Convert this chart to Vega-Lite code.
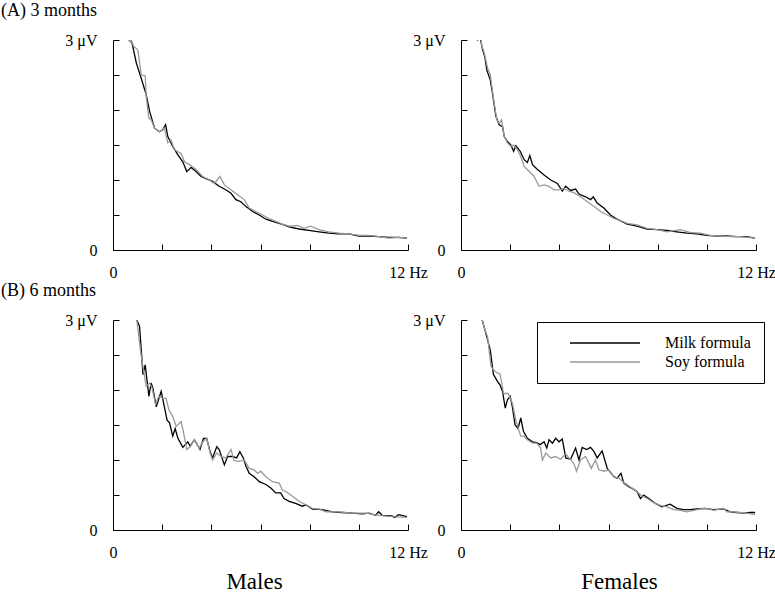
{
  "$schema": "https://vega.github.io/schema/vega-lite/v6.json",
  "background": "white",
  "padding": {"left": 1, "top": 2, "right": 0, "bottom": 0},
  "config": {
    "view": {"stroke": null},
    "font": "Liberation Serif",
    "axis": {
      "grid": false, "domainColor": "#000", "tickColor": "#000", "labelColor": "#000",
      "labelFont": "Liberation Serif", "labelFontSize": 16, "tickSize": -6, "tickWidth": 1, "domainWidth": 1,
      "labelOverlap": false, "labelFlush": false,
      "titleFont": "Liberation Serif", "titleFontSize": 23, "titleFontWeight": "normal", "titleColor": "#000"
    },
    "axisX": {"values": [0, 2.4, 4.8, 7.2, 9.6, 12], "labelExpr": "datum.value == 0 ? '0' : datum.value == 12 ? '12 Hz' : ''", "labelPadding": 20, "titlePadding": 10},
    "axisY": {"values": [0, 0.6, 1.2, 1.8, 2.4, 3], "labelExpr": "datum.value == 3 ? '3 μV' : datum.value == 0 ? '0' : ''", "labelPadding": 22, "title": null},
    "title": {"font": "Liberation Serif", "fontSize": 18, "fontWeight": "normal", "color": "#000", "anchor": "start", "frame": "group"}
  },
  "datasets": {
    "m3": [
      {"formula": "Milk formula", "hz": 0.5, "uv": 3.3}, {"formula": "Milk formula", "hz": 0.61, "uv": 3.05}, {"formula": "Milk formula", "hz": 0.78, "uv": 2.95}, {"formula": "Milk formula", "hz": 0.95, "uv": 2.67}, {"formula": "Milk formula", "hz": 1.15, "uv": 2.45}, {"formula": "Milk formula", "hz": 1.35, "uv": 2.22}, {"formula": "Milk formula", "hz": 1.49, "uv": 1.98}, {"formula": "Milk formula", "hz": 1.69, "uv": 1.74}, {"formula": "Milk formula", "hz": 1.89, "uv": 1.69}, {"formula": "Milk formula", "hz": 2.03, "uv": 1.72}, {"formula": "Milk formula", "hz": 2.14, "uv": 1.79}, {"formula": "Milk formula", "hz": 2.23, "uv": 1.62}, {"formula": "Milk formula", "hz": 2.43, "uv": 1.48}, {"formula": "Milk formula", "hz": 2.64, "uv": 1.36}, {"formula": "Milk formula", "hz": 2.84, "uv": 1.26}, {"formula": "Milk formula", "hz": 3.0, "uv": 1.12}, {"formula": "Milk formula", "hz": 3.18, "uv": 1.18}, {"formula": "Milk formula", "hz": 3.38, "uv": 1.12}, {"formula": "Milk formula", "hz": 3.58, "uv": 1.05}, {"formula": "Milk formula", "hz": 3.78, "uv": 1.02}, {"formula": "Milk formula", "hz": 4.05, "uv": 0.98}, {"formula": "Milk formula", "hz": 4.32, "uv": 0.91}, {"formula": "Milk formula", "hz": 4.59, "uv": 0.86}, {"formula": "Milk formula", "hz": 4.8, "uv": 0.81}, {"formula": "Milk formula", "hz": 5.0, "uv": 0.72}, {"formula": "Milk formula", "hz": 5.2, "uv": 0.69}, {"formula": "Milk formula", "hz": 5.41, "uv": 0.62}, {"formula": "Milk formula", "hz": 5.68, "uv": 0.55}, {"formula": "Milk formula", "hz": 5.95, "uv": 0.5}, {"formula": "Milk formula", "hz": 6.22, "uv": 0.44}, {"formula": "Milk formula", "hz": 6.49, "uv": 0.41}, {"formula": "Milk formula", "hz": 6.76, "uv": 0.38}, {"formula": "Milk formula", "hz": 6.96, "uv": 0.36}, {"formula": "Milk formula", "hz": 7.16, "uv": 0.33}, {"formula": "Milk formula", "hz": 7.57, "uv": 0.3}, {"formula": "Milk formula", "hz": 7.97, "uv": 0.28}, {"formula": "Milk formula", "hz": 8.38, "uv": 0.26}, {"formula": "Milk formula", "hz": 8.78, "uv": 0.24}, {"formula": "Milk formula", "hz": 9.19, "uv": 0.23}, {"formula": "Milk formula", "hz": 9.59, "uv": 0.23}, {"formula": "Milk formula", "hz": 10.0, "uv": 0.2}, {"formula": "Milk formula", "hz": 10.41, "uv": 0.2}, {"formula": "Milk formula", "hz": 10.81, "uv": 0.19}, {"formula": "Milk formula", "hz": 11.22, "uv": 0.18}, {"formula": "Milk formula", "hz": 11.62, "uv": 0.18}, {"formula": "Milk formula", "hz": 11.96, "uv": 0.17},
      {"formula": "Soy formula", "hz": 0.45, "uv": 3.3}, {"formula": "Soy formula", "hz": 0.54, "uv": 3.05}, {"formula": "Soy formula", "hz": 0.68, "uv": 2.98}, {"formula": "Soy formula", "hz": 0.74, "uv": 3.0}, {"formula": "Soy formula", "hz": 0.84, "uv": 2.91}, {"formula": "Soy formula", "hz": 1.01, "uv": 2.86}, {"formula": "Soy formula", "hz": 1.15, "uv": 2.5}, {"formula": "Soy formula", "hz": 1.31, "uv": 2.49}, {"formula": "Soy formula", "hz": 1.35, "uv": 2.19}, {"formula": "Soy formula", "hz": 1.46, "uv": 1.88}, {"formula": "Soy formula", "hz": 1.55, "uv": 1.86}, {"formula": "Soy formula", "hz": 1.69, "uv": 1.74}, {"formula": "Soy formula", "hz": 1.89, "uv": 1.69}, {"formula": "Soy formula", "hz": 2.09, "uv": 1.74}, {"formula": "Soy formula", "hz": 2.23, "uv": 1.53}, {"formula": "Soy formula", "hz": 2.36, "uv": 1.57}, {"formula": "Soy formula", "hz": 2.5, "uv": 1.43}, {"formula": "Soy formula", "hz": 2.77, "uv": 1.38}, {"formula": "Soy formula", "hz": 2.91, "uv": 1.26}, {"formula": "Soy formula", "hz": 3.11, "uv": 1.22}, {"formula": "Soy formula", "hz": 3.38, "uv": 1.15}, {"formula": "Soy formula", "hz": 3.65, "uv": 1.05}, {"formula": "Soy formula", "hz": 3.92, "uv": 1.0}, {"formula": "Soy formula", "hz": 4.12, "uv": 0.95}, {"formula": "Soy formula", "hz": 4.35, "uv": 1.05}, {"formula": "Soy formula", "hz": 4.53, "uv": 0.93}, {"formula": "Soy formula", "hz": 4.8, "uv": 0.86}, {"formula": "Soy formula", "hz": 5.07, "uv": 0.79}, {"formula": "Soy formula", "hz": 5.34, "uv": 0.72}, {"formula": "Soy formula", "hz": 5.54, "uv": 0.6}, {"formula": "Soy formula", "hz": 5.81, "uv": 0.55}, {"formula": "Soy formula", "hz": 6.08, "uv": 0.5}, {"formula": "Soy formula", "hz": 6.35, "uv": 0.45}, {"formula": "Soy formula", "hz": 6.62, "uv": 0.41}, {"formula": "Soy formula", "hz": 6.89, "uv": 0.37}, {"formula": "Soy formula", "hz": 7.16, "uv": 0.34}, {"formula": "Soy formula", "hz": 7.5, "uv": 0.35}, {"formula": "Soy formula", "hz": 7.77, "uv": 0.31}, {"formula": "Soy formula", "hz": 8.04, "uv": 0.34}, {"formula": "Soy formula", "hz": 8.38, "uv": 0.29}, {"formula": "Soy formula", "hz": 8.78, "uv": 0.26}, {"formula": "Soy formula", "hz": 9.19, "uv": 0.24}, {"formula": "Soy formula", "hz": 9.59, "uv": 0.23}, {"formula": "Soy formula", "hz": 10.0, "uv": 0.21}, {"formula": "Soy formula", "hz": 10.41, "uv": 0.21}, {"formula": "Soy formula", "hz": 10.81, "uv": 0.19}, {"formula": "Soy formula", "hz": 11.22, "uv": 0.17}, {"formula": "Soy formula", "hz": 11.62, "uv": 0.18}, {"formula": "Soy formula", "hz": 11.96, "uv": 0.17}
    ],
    "f3": [
      {"formula": "Milk formula", "hz": 0.45, "uv": 3.2}, {"formula": "Milk formula", "hz": 0.54, "uv": 3.03}, {"formula": "Milk formula", "hz": 0.68, "uv": 3.0}, {"formula": "Milk formula", "hz": 0.78, "uv": 3.03}, {"formula": "Milk formula", "hz": 0.88, "uv": 2.86}, {"formula": "Milk formula", "hz": 0.97, "uv": 2.76}, {"formula": "Milk formula", "hz": 1.05, "uv": 2.57}, {"formula": "Milk formula", "hz": 1.19, "uv": 2.43}, {"formula": "Milk formula", "hz": 1.28, "uv": 2.24}, {"formula": "Milk formula", "hz": 1.42, "uv": 1.91}, {"formula": "Milk formula", "hz": 1.55, "uv": 1.79}, {"formula": "Milk formula", "hz": 1.69, "uv": 1.76}, {"formula": "Milk formula", "hz": 1.76, "uv": 1.62}, {"formula": "Milk formula", "hz": 1.89, "uv": 1.55}, {"formula": "Milk formula", "hz": 2.03, "uv": 1.5}, {"formula": "Milk formula", "hz": 2.14, "uv": 1.41}, {"formula": "Milk formula", "hz": 2.23, "uv": 1.49}, {"formula": "Milk formula", "hz": 2.41, "uv": 1.41}, {"formula": "Milk formula", "hz": 2.57, "uv": 1.29}, {"formula": "Milk formula", "hz": 2.7, "uv": 1.25}, {"formula": "Milk formula", "hz": 2.8, "uv": 1.35}, {"formula": "Milk formula", "hz": 2.91, "uv": 1.22}, {"formula": "Milk formula", "hz": 3.11, "uv": 1.15}, {"formula": "Milk formula", "hz": 3.38, "uv": 1.07}, {"formula": "Milk formula", "hz": 3.65, "uv": 1.0}, {"formula": "Milk formula", "hz": 3.92, "uv": 0.95}, {"formula": "Milk formula", "hz": 4.12, "uv": 0.84}, {"formula": "Milk formula", "hz": 4.26, "uv": 0.91}, {"formula": "Milk formula", "hz": 4.46, "uv": 0.85}, {"formula": "Milk formula", "hz": 4.66, "uv": 0.87}, {"formula": "Milk formula", "hz": 4.8, "uv": 0.8}, {"formula": "Milk formula", "hz": 5.07, "uv": 0.76}, {"formula": "Milk formula", "hz": 5.27, "uv": 0.72}, {"formula": "Milk formula", "hz": 5.38, "uv": 0.76}, {"formula": "Milk formula", "hz": 5.54, "uv": 0.67}, {"formula": "Milk formula", "hz": 5.81, "uv": 0.6}, {"formula": "Milk formula", "hz": 6.08, "uv": 0.5}, {"formula": "Milk formula", "hz": 6.35, "uv": 0.44}, {"formula": "Milk formula", "hz": 6.76, "uv": 0.37}, {"formula": "Milk formula", "hz": 7.16, "uv": 0.34}, {"formula": "Milk formula", "hz": 7.57, "uv": 0.3}, {"formula": "Milk formula", "hz": 7.97, "uv": 0.29}, {"formula": "Milk formula", "hz": 8.38, "uv": 0.28}, {"formula": "Milk formula", "hz": 8.78, "uv": 0.26}, {"formula": "Milk formula", "hz": 9.19, "uv": 0.24}, {"formula": "Milk formula", "hz": 9.59, "uv": 0.23}, {"formula": "Milk formula", "hz": 10.0, "uv": 0.21}, {"formula": "Milk formula", "hz": 10.41, "uv": 0.2}, {"formula": "Milk formula", "hz": 10.81, "uv": 0.2}, {"formula": "Milk formula", "hz": 11.22, "uv": 0.19}, {"formula": "Milk formula", "hz": 11.62, "uv": 0.19}, {"formula": "Milk formula", "hz": 11.96, "uv": 0.17},
      {"formula": "Soy formula", "hz": 0.45, "uv": 3.2}, {"formula": "Soy formula", "hz": 0.54, "uv": 3.03}, {"formula": "Soy formula", "hz": 0.81, "uv": 3.03}, {"formula": "Soy formula", "hz": 0.84, "uv": 2.93}, {"formula": "Soy formula", "hz": 0.95, "uv": 2.81}, {"formula": "Soy formula", "hz": 1.08, "uv": 2.6}, {"formula": "Soy formula", "hz": 1.19, "uv": 2.5}, {"formula": "Soy formula", "hz": 1.35, "uv": 2.1}, {"formula": "Soy formula", "hz": 1.46, "uv": 1.86}, {"formula": "Soy formula", "hz": 1.55, "uv": 1.81}, {"formula": "Soy formula", "hz": 1.65, "uv": 1.86}, {"formula": "Soy formula", "hz": 1.76, "uv": 1.62}, {"formula": "Soy formula", "hz": 1.89, "uv": 1.53}, {"formula": "Soy formula", "hz": 2.03, "uv": 1.48}, {"formula": "Soy formula", "hz": 2.14, "uv": 1.5}, {"formula": "Soy formula", "hz": 2.3, "uv": 1.43}, {"formula": "Soy formula", "hz": 2.43, "uv": 1.34}, {"formula": "Soy formula", "hz": 2.57, "uv": 1.19}, {"formula": "Soy formula", "hz": 2.7, "uv": 1.15}, {"formula": "Soy formula", "hz": 2.84, "uv": 1.1}, {"formula": "Soy formula", "hz": 2.97, "uv": 1.05}, {"formula": "Soy formula", "hz": 3.18, "uv": 0.91}, {"formula": "Soy formula", "hz": 3.38, "uv": 0.93}, {"formula": "Soy formula", "hz": 3.58, "uv": 0.91}, {"formula": "Soy formula", "hz": 3.78, "uv": 0.86}, {"formula": "Soy formula", "hz": 3.99, "uv": 0.86}, {"formula": "Soy formula", "hz": 4.19, "uv": 0.88}, {"formula": "Soy formula", "hz": 4.39, "uv": 0.84}, {"formula": "Soy formula", "hz": 4.59, "uv": 0.82}, {"formula": "Soy formula", "hz": 4.86, "uv": 0.76}, {"formula": "Soy formula", "hz": 5.14, "uv": 0.69}, {"formula": "Soy formula", "hz": 5.41, "uv": 0.62}, {"formula": "Soy formula", "hz": 5.68, "uv": 0.55}, {"formula": "Soy formula", "hz": 5.95, "uv": 0.5}, {"formula": "Soy formula", "hz": 6.22, "uv": 0.45}, {"formula": "Soy formula", "hz": 6.49, "uv": 0.42}, {"formula": "Soy formula", "hz": 6.76, "uv": 0.38}, {"formula": "Soy formula", "hz": 7.16, "uv": 0.36}, {"formula": "Soy formula", "hz": 7.57, "uv": 0.31}, {"formula": "Soy formula", "hz": 7.97, "uv": 0.29}, {"formula": "Soy formula", "hz": 8.38, "uv": 0.26}, {"formula": "Soy formula", "hz": 8.92, "uv": 0.29}, {"formula": "Soy formula", "hz": 9.32, "uv": 0.25}, {"formula": "Soy formula", "hz": 9.73, "uv": 0.24}, {"formula": "Soy formula", "hz": 10.14, "uv": 0.21}, {"formula": "Soy formula", "hz": 10.54, "uv": 0.2}, {"formula": "Soy formula", "hz": 10.95, "uv": 0.19}, {"formula": "Soy formula", "hz": 11.35, "uv": 0.19}, {"formula": "Soy formula", "hz": 11.96, "uv": 0.17}
    ],
    "m6": [
      {"formula": "Milk formula", "hz": 0.95, "uv": 3.1}, {"formula": "Milk formula", "hz": 0.97, "uv": 3.0}, {"formula": "Milk formula", "hz": 1.08, "uv": 2.91}, {"formula": "Milk formula", "hz": 1.15, "uv": 2.57}, {"formula": "Milk formula", "hz": 1.22, "uv": 2.22}, {"formula": "Milk formula", "hz": 1.31, "uv": 2.36}, {"formula": "Milk formula", "hz": 1.38, "uv": 2.15}, {"formula": "Milk formula", "hz": 1.46, "uv": 1.91}, {"formula": "Milk formula", "hz": 1.55, "uv": 2.1}, {"formula": "Milk formula", "hz": 1.62, "uv": 2.03}, {"formula": "Milk formula", "hz": 1.76, "uv": 1.76}, {"formula": "Milk formula", "hz": 1.85, "uv": 1.86}, {"formula": "Milk formula", "hz": 1.96, "uv": 1.98}, {"formula": "Milk formula", "hz": 2.09, "uv": 1.76}, {"formula": "Milk formula", "hz": 2.2, "uv": 1.57}, {"formula": "Milk formula", "hz": 2.3, "uv": 1.53}, {"formula": "Milk formula", "hz": 2.43, "uv": 1.34}, {"formula": "Milk formula", "hz": 2.53, "uv": 1.45}, {"formula": "Milk formula", "hz": 2.64, "uv": 1.31}, {"formula": "Milk formula", "hz": 2.84, "uv": 1.18}, {"formula": "Milk formula", "hz": 3.04, "uv": 1.26}, {"formula": "Milk formula", "hz": 3.14, "uv": 1.2}, {"formula": "Milk formula", "hz": 3.31, "uv": 1.29}, {"formula": "Milk formula", "hz": 3.54, "uv": 1.15}, {"formula": "Milk formula", "hz": 3.68, "uv": 1.31}, {"formula": "Milk formula", "hz": 3.81, "uv": 1.31}, {"formula": "Milk formula", "hz": 3.95, "uv": 1.12}, {"formula": "Milk formula", "hz": 4.05, "uv": 1.03}, {"formula": "Milk formula", "hz": 4.22, "uv": 1.19}, {"formula": "Milk formula", "hz": 4.32, "uv": 1.15}, {"formula": "Milk formula", "hz": 4.53, "uv": 0.93}, {"formula": "Milk formula", "hz": 4.66, "uv": 1.05}, {"formula": "Milk formula", "hz": 4.86, "uv": 1.05}, {"formula": "Milk formula", "hz": 5.03, "uv": 1.03}, {"formula": "Milk formula", "hz": 5.16, "uv": 1.12}, {"formula": "Milk formula", "hz": 5.3, "uv": 1.03}, {"formula": "Milk formula", "hz": 5.41, "uv": 0.91}, {"formula": "Milk formula", "hz": 5.54, "uv": 0.81}, {"formula": "Milk formula", "hz": 5.74, "uv": 0.76}, {"formula": "Milk formula", "hz": 5.95, "uv": 0.69}, {"formula": "Milk formula", "hz": 6.22, "uv": 0.65}, {"formula": "Milk formula", "hz": 6.42, "uv": 0.6}, {"formula": "Milk formula", "hz": 6.62, "uv": 0.53}, {"formula": "Milk formula", "hz": 6.82, "uv": 0.53}, {"formula": "Milk formula", "hz": 6.96, "uv": 0.45}, {"formula": "Milk formula", "hz": 7.16, "uv": 0.41}, {"formula": "Milk formula", "hz": 7.43, "uv": 0.38}, {"formula": "Milk formula", "hz": 7.7, "uv": 0.34}, {"formula": "Milk formula", "hz": 7.84, "uv": 0.36}, {"formula": "Milk formula", "hz": 8.11, "uv": 0.3}, {"formula": "Milk formula", "hz": 8.51, "uv": 0.29}, {"formula": "Milk formula", "hz": 8.92, "uv": 0.26}, {"formula": "Milk formula", "hz": 9.32, "uv": 0.25}, {"formula": "Milk formula", "hz": 9.73, "uv": 0.24}, {"formula": "Milk formula", "hz": 10.14, "uv": 0.23}, {"formula": "Milk formula", "hz": 10.41, "uv": 0.24}, {"formula": "Milk formula", "hz": 10.68, "uv": 0.21}, {"formula": "Milk formula", "hz": 10.81, "uv": 0.26}, {"formula": "Milk formula", "hz": 10.95, "uv": 0.21}, {"formula": "Milk formula", "hz": 11.35, "uv": 0.2}, {"formula": "Milk formula", "hz": 11.46, "uv": 0.18}, {"formula": "Milk formula", "hz": 11.62, "uv": 0.22}, {"formula": "Milk formula", "hz": 11.96, "uv": 0.19},
      {"formula": "Soy formula", "hz": 0.95, "uv": 3.1}, {"formula": "Soy formula", "hz": 0.97, "uv": 3.0}, {"formula": "Soy formula", "hz": 1.05, "uv": 2.76}, {"formula": "Soy formula", "hz": 1.15, "uv": 2.48}, {"formula": "Soy formula", "hz": 1.24, "uv": 2.29}, {"formula": "Soy formula", "hz": 1.35, "uv": 2.05}, {"formula": "Soy formula", "hz": 1.49, "uv": 2.1}, {"formula": "Soy formula", "hz": 1.59, "uv": 2.03}, {"formula": "Soy formula", "hz": 1.73, "uv": 1.79}, {"formula": "Soy formula", "hz": 1.86, "uv": 1.91}, {"formula": "Soy formula", "hz": 2.03, "uv": 1.88}, {"formula": "Soy formula", "hz": 2.16, "uv": 1.88}, {"formula": "Soy formula", "hz": 2.27, "uv": 1.72}, {"formula": "Soy formula", "hz": 2.43, "uv": 1.62}, {"formula": "Soy formula", "hz": 2.57, "uv": 1.48}, {"formula": "Soy formula", "hz": 2.77, "uv": 1.55}, {"formula": "Soy formula", "hz": 2.86, "uv": 1.41}, {"formula": "Soy formula", "hz": 3.0, "uv": 1.15}, {"formula": "Soy formula", "hz": 3.14, "uv": 1.19}, {"formula": "Soy formula", "hz": 3.31, "uv": 1.29}, {"formula": "Soy formula", "hz": 3.51, "uv": 1.17}, {"formula": "Soy formula", "hz": 3.65, "uv": 1.26}, {"formula": "Soy formula", "hz": 3.81, "uv": 1.31}, {"formula": "Soy formula", "hz": 3.95, "uv": 1.1}, {"formula": "Soy formula", "hz": 4.05, "uv": 1.0}, {"formula": "Soy formula", "hz": 4.22, "uv": 1.1}, {"formula": "Soy formula", "hz": 4.39, "uv": 1.05}, {"formula": "Soy formula", "hz": 4.59, "uv": 1.03}, {"formula": "Soy formula", "hz": 4.8, "uv": 1.15}, {"formula": "Soy formula", "hz": 4.93, "uv": 0.99}, {"formula": "Soy formula", "hz": 5.14, "uv": 0.98}, {"formula": "Soy formula", "hz": 5.34, "uv": 1.0}, {"formula": "Soy formula", "hz": 5.54, "uv": 0.88}, {"formula": "Soy formula", "hz": 5.74, "uv": 0.86}, {"formula": "Soy formula", "hz": 5.88, "uv": 0.81}, {"formula": "Soy formula", "hz": 6.01, "uv": 0.84}, {"formula": "Soy formula", "hz": 6.22, "uv": 0.76}, {"formula": "Soy formula", "hz": 6.49, "uv": 0.69}, {"formula": "Soy formula", "hz": 6.76, "uv": 0.67}, {"formula": "Soy formula", "hz": 6.89, "uv": 0.57}, {"formula": "Soy formula", "hz": 7.03, "uv": 0.55}, {"formula": "Soy formula", "hz": 7.23, "uv": 0.5}, {"formula": "Soy formula", "hz": 7.57, "uv": 0.41}, {"formula": "Soy formula", "hz": 7.84, "uv": 0.36}, {"formula": "Soy formula", "hz": 8.11, "uv": 0.31}, {"formula": "Soy formula", "hz": 8.38, "uv": 0.3}, {"formula": "Soy formula", "hz": 8.65, "uv": 0.26}, {"formula": "Soy formula", "hz": 9.19, "uv": 0.26}, {"formula": "Soy formula", "hz": 9.73, "uv": 0.24}, {"formula": "Soy formula", "hz": 10.27, "uv": 0.24}, {"formula": "Soy formula", "hz": 10.81, "uv": 0.21}, {"formula": "Soy formula", "hz": 11.35, "uv": 0.19}, {"formula": "Soy formula", "hz": 11.96, "uv": 0.18}
    ],
    "f6": [
      {"formula": "Milk formula", "hz": 0.8, "uv": 3.15}, {"formula": "Milk formula", "hz": 0.84, "uv": 3.03}, {"formula": "Milk formula", "hz": 1.05, "uv": 2.76}, {"formula": "Milk formula", "hz": 1.19, "uv": 2.57}, {"formula": "Milk formula", "hz": 1.32, "uv": 2.22}, {"formula": "Milk formula", "hz": 1.49, "uv": 2.12}, {"formula": "Milk formula", "hz": 1.59, "uv": 2.07}, {"formula": "Milk formula", "hz": 1.69, "uv": 1.98}, {"formula": "Milk formula", "hz": 1.8, "uv": 1.74}, {"formula": "Milk formula", "hz": 1.89, "uv": 1.86}, {"formula": "Milk formula", "hz": 2.0, "uv": 1.91}, {"formula": "Milk formula", "hz": 2.09, "uv": 1.76}, {"formula": "Milk formula", "hz": 2.2, "uv": 1.5}, {"formula": "Milk formula", "hz": 2.32, "uv": 1.45}, {"formula": "Milk formula", "hz": 2.43, "uv": 1.6}, {"formula": "Milk formula", "hz": 2.54, "uv": 1.41}, {"formula": "Milk formula", "hz": 2.7, "uv": 1.31}, {"formula": "Milk formula", "hz": 2.91, "uv": 1.26}, {"formula": "Milk formula", "hz": 3.08, "uv": 1.25}, {"formula": "Milk formula", "hz": 3.22, "uv": 1.22}, {"formula": "Milk formula", "hz": 3.38, "uv": 1.26}, {"formula": "Milk formula", "hz": 3.49, "uv": 1.17}, {"formula": "Milk formula", "hz": 3.58, "uv": 1.29}, {"formula": "Milk formula", "hz": 3.72, "uv": 1.24}, {"formula": "Milk formula", "hz": 3.85, "uv": 1.31}, {"formula": "Milk formula", "hz": 3.99, "uv": 1.26}, {"formula": "Milk formula", "hz": 4.12, "uv": 1.3}, {"formula": "Milk formula", "hz": 4.26, "uv": 1.03}, {"formula": "Milk formula", "hz": 4.46, "uv": 1.01}, {"formula": "Milk formula", "hz": 4.66, "uv": 1.17}, {"formula": "Milk formula", "hz": 4.8, "uv": 1.0}, {"formula": "Milk formula", "hz": 4.93, "uv": 1.18}, {"formula": "Milk formula", "hz": 5.11, "uv": 1.15}, {"formula": "Milk formula", "hz": 5.27, "uv": 1.18}, {"formula": "Milk formula", "hz": 5.41, "uv": 1.12}, {"formula": "Milk formula", "hz": 5.54, "uv": 1.03}, {"formula": "Milk formula", "hz": 5.74, "uv": 1.13}, {"formula": "Milk formula", "hz": 5.95, "uv": 0.88}, {"formula": "Milk formula", "hz": 6.22, "uv": 0.76}, {"formula": "Milk formula", "hz": 6.35, "uv": 0.74}, {"formula": "Milk formula", "hz": 6.51, "uv": 0.81}, {"formula": "Milk formula", "hz": 6.62, "uv": 0.67}, {"formula": "Milk formula", "hz": 6.82, "uv": 0.62}, {"formula": "Milk formula", "hz": 7.03, "uv": 0.58}, {"formula": "Milk formula", "hz": 7.16, "uv": 0.55}, {"formula": "Milk formula", "hz": 7.3, "uv": 0.45}, {"formula": "Milk formula", "hz": 7.43, "uv": 0.5}, {"formula": "Milk formula", "hz": 7.64, "uv": 0.45}, {"formula": "Milk formula", "hz": 7.91, "uv": 0.38}, {"formula": "Milk formula", "hz": 8.18, "uv": 0.33}, {"formula": "Milk formula", "hz": 8.51, "uv": 0.37}, {"formula": "Milk formula", "hz": 8.78, "uv": 0.31}, {"formula": "Milk formula", "hz": 9.05, "uv": 0.29}, {"formula": "Milk formula", "hz": 9.32, "uv": 0.29}, {"formula": "Milk formula", "hz": 9.59, "uv": 0.3}, {"formula": "Milk formula", "hz": 9.93, "uv": 0.31}, {"formula": "Milk formula", "hz": 10.27, "uv": 0.29}, {"formula": "Milk formula", "hz": 10.68, "uv": 0.3}, {"formula": "Milk formula", "hz": 10.95, "uv": 0.26}, {"formula": "Milk formula", "hz": 11.22, "uv": 0.25}, {"formula": "Milk formula", "hz": 11.49, "uv": 0.24}, {"formula": "Milk formula", "hz": 11.76, "uv": 0.25}, {"formula": "Milk formula", "hz": 11.96, "uv": 0.25},
      {"formula": "Soy formula", "hz": 0.8, "uv": 3.15}, {"formula": "Soy formula", "hz": 0.84, "uv": 3.03}, {"formula": "Soy formula", "hz": 0.97, "uv": 2.86}, {"formula": "Soy formula", "hz": 1.08, "uv": 2.76}, {"formula": "Soy formula", "hz": 1.22, "uv": 2.34}, {"formula": "Soy formula", "hz": 1.32, "uv": 2.29}, {"formula": "Soy formula", "hz": 1.49, "uv": 2.24}, {"formula": "Soy formula", "hz": 1.59, "uv": 2.23}, {"formula": "Soy formula", "hz": 1.73, "uv": 1.95}, {"formula": "Soy formula", "hz": 1.92, "uv": 1.95}, {"formula": "Soy formula", "hz": 2.09, "uv": 1.81}, {"formula": "Soy formula", "hz": 2.23, "uv": 1.57}, {"formula": "Soy formula", "hz": 2.43, "uv": 1.34}, {"formula": "Soy formula", "hz": 2.57, "uv": 1.34}, {"formula": "Soy formula", "hz": 2.7, "uv": 1.29}, {"formula": "Soy formula", "hz": 2.91, "uv": 1.24}, {"formula": "Soy formula", "hz": 3.08, "uv": 1.24}, {"formula": "Soy formula", "hz": 3.24, "uv": 1.17}, {"formula": "Soy formula", "hz": 3.31, "uv": 1.0}, {"formula": "Soy formula", "hz": 3.45, "uv": 1.1}, {"formula": "Soy formula", "hz": 3.65, "uv": 1.03}, {"formula": "Soy formula", "hz": 3.85, "uv": 1.05}, {"formula": "Soy formula", "hz": 4.05, "uv": 1.01}, {"formula": "Soy formula", "hz": 4.26, "uv": 1.09}, {"formula": "Soy formula", "hz": 4.39, "uv": 1.03}, {"formula": "Soy formula", "hz": 4.59, "uv": 0.95}, {"formula": "Soy formula", "hz": 4.7, "uv": 0.84}, {"formula": "Soy formula", "hz": 4.86, "uv": 1.0}, {"formula": "Soy formula", "hz": 5.07, "uv": 1.05}, {"formula": "Soy formula", "hz": 5.3, "uv": 0.88}, {"formula": "Soy formula", "hz": 5.47, "uv": 1.0}, {"formula": "Soy formula", "hz": 5.61, "uv": 0.86}, {"formula": "Soy formula", "hz": 5.81, "uv": 0.84}, {"formula": "Soy formula", "hz": 6.01, "uv": 0.86}, {"formula": "Soy formula", "hz": 6.22, "uv": 0.76}, {"formula": "Soy formula", "hz": 6.42, "uv": 0.74}, {"formula": "Soy formula", "hz": 6.62, "uv": 0.68}, {"formula": "Soy formula", "hz": 6.82, "uv": 0.63}, {"formula": "Soy formula", "hz": 7.03, "uv": 0.58}, {"formula": "Soy formula", "hz": 7.16, "uv": 0.55}, {"formula": "Soy formula", "hz": 7.3, "uv": 0.5}, {"formula": "Soy formula", "hz": 7.57, "uv": 0.45}, {"formula": "Soy formula", "hz": 7.84, "uv": 0.39}, {"formula": "Soy formula", "hz": 8.11, "uv": 0.35}, {"formula": "Soy formula", "hz": 8.38, "uv": 0.33}, {"formula": "Soy formula", "hz": 8.65, "uv": 0.29}, {"formula": "Soy formula", "hz": 8.92, "uv": 0.28}, {"formula": "Soy formula", "hz": 9.19, "uv": 0.26}, {"formula": "Soy formula", "hz": 9.46, "uv": 0.28}, {"formula": "Soy formula", "hz": 9.73, "uv": 0.3}, {"formula": "Soy formula", "hz": 10.0, "uv": 0.31}, {"formula": "Soy formula", "hz": 10.27, "uv": 0.28}, {"formula": "Soy formula", "hz": 10.68, "uv": 0.31}, {"formula": "Soy formula", "hz": 10.81, "uv": 0.26}, {"formula": "Soy formula", "hz": 11.08, "uv": 0.26}, {"formula": "Soy formula", "hz": 11.35, "uv": 0.25}, {"formula": "Soy formula", "hz": 11.62, "uv": 0.24}, {"formula": "Soy formula", "hz": 11.96, "uv": 0.22}
    ]
  },
  "columns": 2,
  "bounds": "flush",
  "spacing": {"row": 70, "column": 53},
  "resolve": {"legend": {"color": "independent"}},
  "concat": [
    {
      "width": 295, "height": 210,
      "title": {"text": "(A) 3 months", "dx": -112, "offset": 12},
      "data": {"name": "m3"},
      "mark": {"type": "line", "clip": true, "strokeWidth": 1.3},
      "encoding": {
        "x": {"field": "hz", "type": "quantitative", "scale": {"domain": [0, 12], "nice": false}, "axis": {"title": null}},
        "y": {"field": "uv", "type": "quantitative", "scale": {"domain": [0, 3], "nice": false}},
        "color": {"field": "formula", "type": "nominal", "scale": {"domain": ["Milk formula", "Soy formula"], "range": ["#000000", "#999999"]}, "legend": null}
      }
    },
    {
      "width": 295, "height": 210,
      "data": {"name": "f3"},
      "mark": {"type": "line", "clip": true, "strokeWidth": 1.3},
      "encoding": {
        "x": {"field": "hz", "type": "quantitative", "scale": {"domain": [0, 12], "nice": false}, "axis": {"title": null}},
        "y": {"field": "uv", "type": "quantitative", "scale": {"domain": [0, 3], "nice": false}},
        "color": {"field": "formula", "type": "nominal", "scale": {"domain": ["Milk formula", "Soy formula"], "range": ["#000000", "#999999"]}, "legend": null}
      }
    },
    {
      "width": 295, "height": 210,
      "title": {"text": "(B) 6 months", "dx": -112, "offset": 12},
      "data": {"name": "m6"},
      "mark": {"type": "line", "clip": true, "strokeWidth": 1.3},
      "encoding": {
        "x": {"field": "hz", "type": "quantitative", "scale": {"domain": [0, 12], "nice": false}, "axis": {"title": "Males", "titleX": 141, "titleFont": "Liberation Serif", "titleFontWeight": "normal"}},
        "y": {"field": "uv", "type": "quantitative", "scale": {"domain": [0, 3], "nice": false}},
        "color": {"field": "formula", "type": "nominal", "scale": {"domain": ["Milk formula", "Soy formula"], "range": ["#000000", "#999999"]}, "legend": null}
      }
    },
    {
      "width": 295, "height": 210,
      "data": {"name": "f6"},
      "mark": {"type": "line", "clip": true, "strokeWidth": 1.3},
      "encoding": {
        "x": {"field": "hz", "type": "quantitative", "scale": {"domain": [0, 12], "nice": false}, "axis": {"title": "Females", "titleX": 158, "titleFont": "Liberation Serif", "titleFontWeight": "normal"}},
        "y": {"field": "uv", "type": "quantitative", "scale": {"domain": [0, 3], "nice": false}},
        "color": {"field": "formula", "type": "nominal", "scale": {"domain": ["Milk formula", "Soy formula"], "range": ["#000000", "#999999"]},
          "legend": {"orient": "none", "legendX": 76, "legendY": 2, "title": null, "strokeColor": "#000", "fillColor": "#fff", "padding": 13, "symbolOffset": 47,
            "symbolType": "M-35,0H35", "symbolSize": 4, "symbolStrokeWidth": 1.5, "labelFont": "Liberation Serif", "labelFontSize": 16, "labelColor": "#000",
            "labelOffset": 52, "rowPadding": 3, "labelExpr": "datum.label + '\u00a0\u00a0\u00a0'"}}
      }
    }
  ]
}
